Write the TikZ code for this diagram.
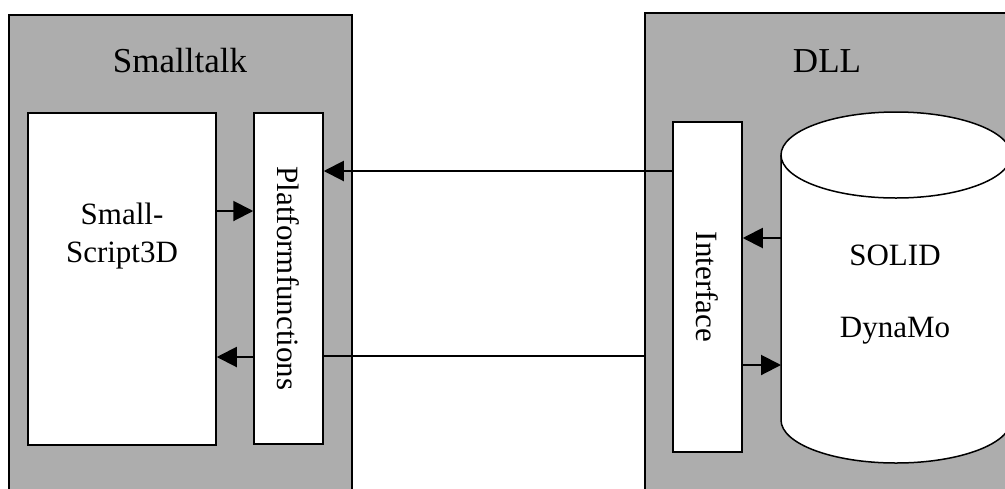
\documentclass[tikz,border=0pt]{standalone}
\usepackage{fontspec}
\setmainfont{Liberation Serif}
\usetikzlibrary{arrows.meta}
\tikzset{
  frame/.style={draw=black, line width=0.9pt, fill=black!32},
  inner box/.style={draw=black, line width=0.75pt, fill=white, inner sep=0pt},
  arr/.style={line width=1pt, -{Triangle[length=10pt,width=10pt]}},
  plain/.style={line width=1pt},
  body/.style={font=\fontsize{15.5pt}{19pt}\selectfont, inner sep=0pt},
  title/.style={font=\fontsize{17.5pt}{21pt}\selectfont, inner sep=0pt, anchor=base},
}
\begin{document}
\begin{tikzpicture}[x=0.5pt,y=-0.5pt]
\useasboundingbox (0,0) rectangle (1005,488);
\clip (0,0) rectangle (1005,488);
% outer frames
\draw[frame] (9,15) rectangle (352,500);
\coordinate (stw) at (9,15);
\draw[frame] (645,13) rectangle (1020,500);
\coordinate (dllw) at (645,13);
\node[title] (st) at (180,72) {Smalltalk};
\node[title] (dll) at (827,72) {DLL};
% Smalltalk inner boxes
\node[inner box, minimum width=94pt, minimum height=166pt] (sc) at (122,279) {};
\node[body, align=center, anchor=base] (sctext) at (122,262) {Small-\\[0pt]Script3D};
\node[inner box, minimum width=34.5pt, minimum height=165.5pt] (pf) at (288.5,278.5)
  {\rotatebox{-90}{\fontsize{15.5pt}{19pt}\selectfont Platformfunctions}};
% DLL interface
\node[inner box, minimum width=34.5pt, minimum height=165pt] (if) at (707.5,287)
  {\rotatebox{-90}{\fontsize{15.5pt}{19pt}\selectfont Interface}};
% cylinder
\coordinate (cylL) at (781,155);
\fill[white] (781,155) -- (781,420)
  arc[start angle=180, end angle=360, x radius=57.5pt, y radius=21.5pt]
  -- (1011,155) -- cycle;
\draw[line width=0.75pt] (781,155) -- (781,420)
  arc[start angle=180, end angle=360, x radius=57.5pt, y radius=21.5pt]
  -- (1011,155);
\draw[line width=0.75pt, fill=white] (896,155) ellipse[x radius=57.5pt, y radius=21.5pt];
\node[body, anchor=base] (solid) at (895,265) {SOLID};
\node[body, anchor=base] (dyn) at (895,337) {DynaMo};
% connectors
\coordinate (ya) at (0,211);
\coordinate (yb) at (0,357);
\coordinate (yc) at (0,171);
\coordinate (yd) at (0,356);
\coordinate (ye) at (0,238);
\coordinate (yf) at (0,365);
\draw[arr] (sc.east |- ya) -- (pf.west |- ya);
\draw[arr] (pf.west |- yb) -- (sc.east |- yb);
\draw[arr] (if.west |- yc) -- (pf.east |- yc);
\draw[plain] (pf.east |- yd) -- (dllw |- yd);
\draw[arr] (cylL |- ye) -- (if.east |- ye);
\draw[arr] (if.east |- yf) -- (cylL |- yf);
\end{tikzpicture}
\end{document}
